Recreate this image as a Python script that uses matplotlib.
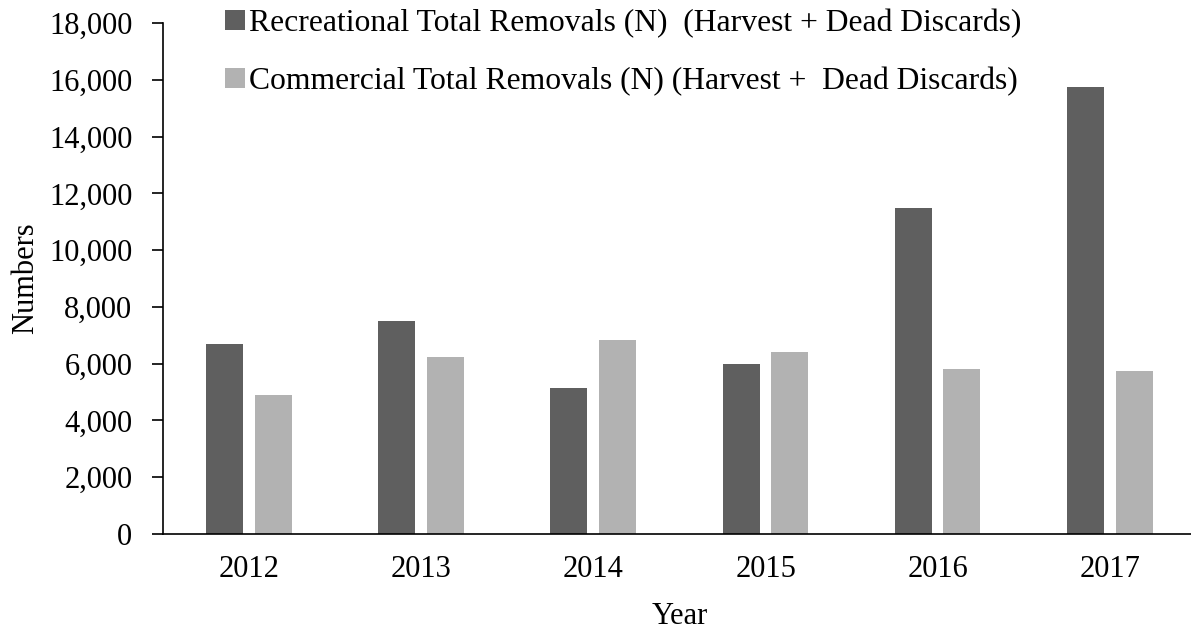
import numpy as np
import matplotlib.pyplot as plt

plt.rcParams['font.family'] = ['Liberation Serif', 'DejaVu Serif']

years = ['2012', '2013', '2014', '2015', '2016', '2017']
recreational = [6680, 7510, 5140, 5990, 11490, 15760]
commercial = [4890, 6220, 6830, 6410, 5800, 5740]
labels = ['Recreational Total Removals (N)  (Harvest + Dead Discards)',
          'Commercial Total Removals (N) (Harvest +  Dead Discards)']

fig = plt.figure(figsize=(11.91, 6.29), dpi=100)
# axes run a little past the right edge, like the original
ax = fig.add_axes([163 / 1191, 1 - 534 / 629, (1196 - 163) / 1191, (534 - 23) / 629])

x = np.arange(len(years))
w = 0.215
ax.bar(x - 0.142, recreational, w, color='#5f5f5f', label=labels[0])
ax.bar(x + 0.14, commercial, w, color='#b2b2b2', label=labels[1])

ax.set_xlim(-0.5, 5.5)
ax.set_ylim(0, 18000)
ax.set_yticks(range(0, 18001, 2000))
ax.set_yticklabels([f'{v:,}' for v in range(0, 18001, 2000)])
ax.set_xticks(x)
ax.set_xticklabels(years)
ax.tick_params(axis='y', length=8, width=1.2, labelsize=22, pad=14)
ax.tick_params(axis='x', length=0, labelsize=22, pad=15)
for s in ['top', 'right']:
    ax.spines[s].set_visible(False)
ax.spines['left'].set_linewidth(1.2)
ax.spines['bottom'].set_linewidth(1.2)

ax.set_ylabel('Numbers', fontsize=22, labelpad=8)
ax.set_xlabel('Year', fontsize=22, labelpad=13)
ax.yaxis.set_label_coords(-122 / 1028, 0.5)

fig.legend(loc='upper left', bbox_to_anchor=(225 / 1191, 1 - 9 / 629), frameon=False,
           fontsize=22.8, handlelength=0.63, handleheight=0.6, handletextpad=0.12,
           labelspacing=0.9, borderpad=0, borderaxespad=0)

fig.savefig('out.png', dpi=100)
